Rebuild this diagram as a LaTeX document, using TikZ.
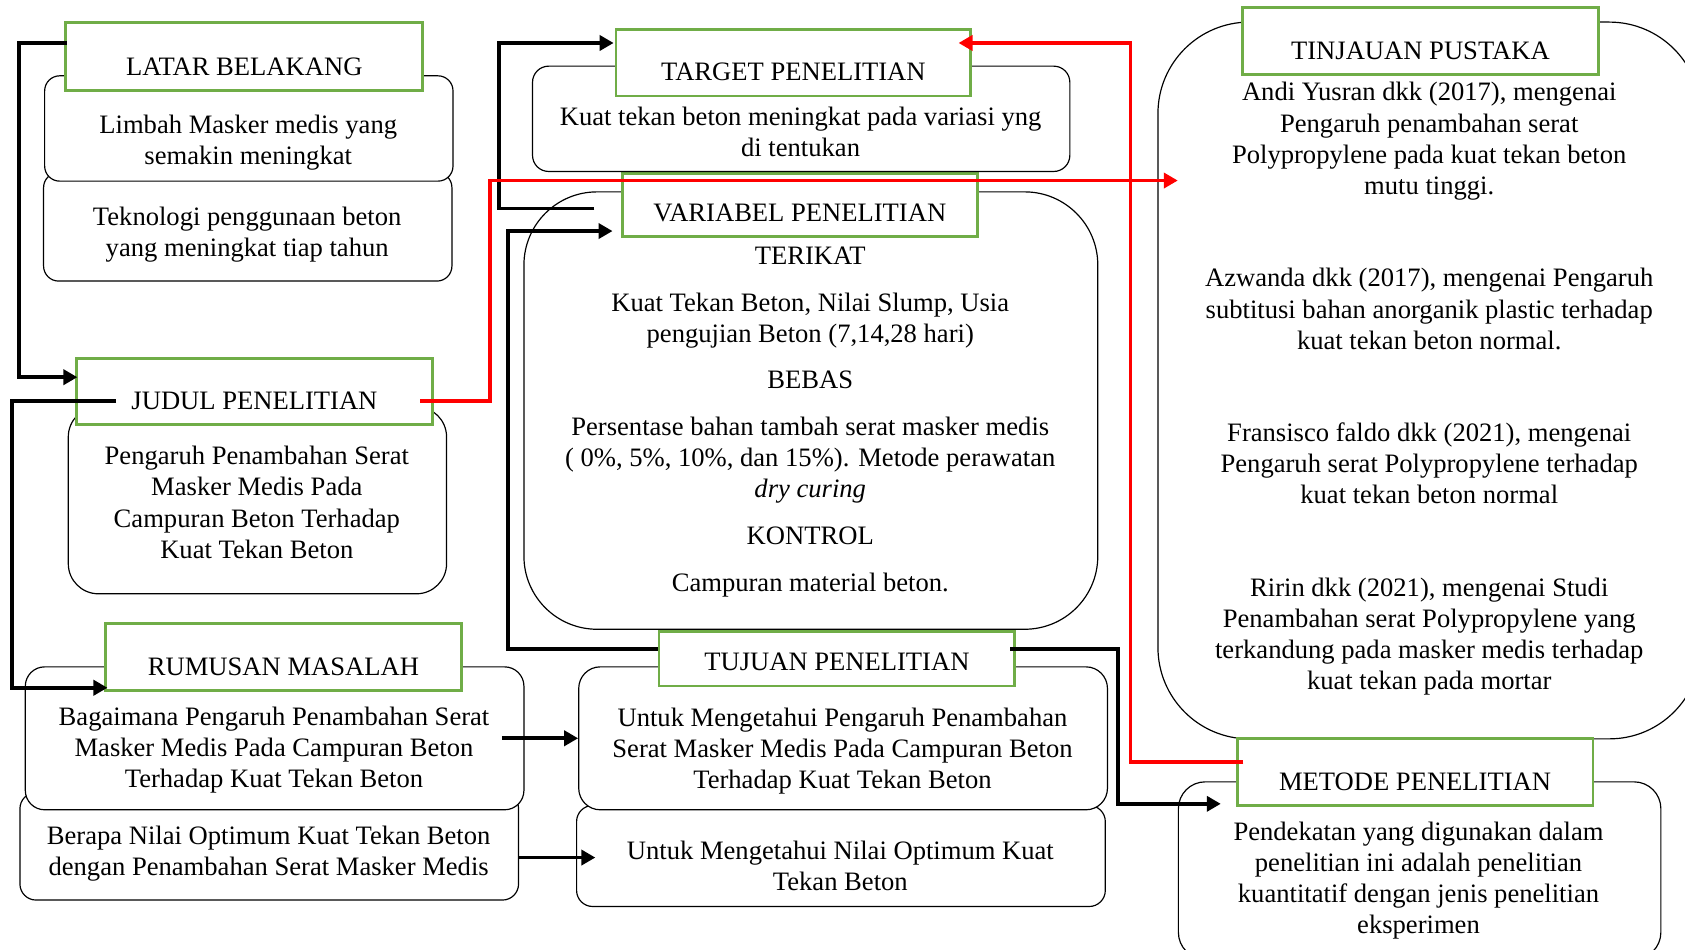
\documentclass[tikz,border=0pt]{standalone}
\usepackage{fontspec}
\setmainfont{Liberation Serif}
\usetikzlibrary{arrows.meta}
\definecolor{hgreen}{HTML}{70AD47}
\begin{document}
\begin{tikzpicture}[x=1pt,y=-1pt,font=\fontsize{24.75}{29}\selectfont,
 hdr/.style={draw=hgreen,line width=2.6pt,fill=white,inner sep=0pt,text depth=14pt,anchor=north west},
 rbox/.style={draw=black,line width=1.1pt,fill=white,rounded corners=#1,inner sep=0pt,anchor=north west},
 rbox/.default=15pt,
 txt/.style={align=center,inner sep=0pt},
 conn/.style={line width=3.6pt,black,-{Triangle[length=13pt,width=14pt]}},
 rconn/.style={line width=3.4pt,red,-{Triangle[length=13pt,width=14pt]}}]
\useasboundingbox (0,0) rectangle (1568,884);
\clip (0,0) rectangle (1568,884);
\fill[white] (0,0) rectangle (1568,884);

% LATAR BELAKANG
\node[rbox=14pt,minimum width=380pt,minimum height=101pt] (tekno) at (40,160) {};
\node[rbox=14pt,minimum width=380pt,minimum height=98pt] (limbah) at (41,70) {};
\node[hdr,minimum width=332pt,text height=49pt] (latar) at (60,20) {LATAR BELAKANG};
\node[txt] (limbahT) at (231,132.5) {Limbah Masker medis yang\\semakin meningkat};
\node[txt] (teknoT) at (230,218) {Teknologi penggunaan beton\\yang meningkat tiap tahun};

% JUDUL PENELITIAN
\node[rbox=28pt,minimum width=352pt,minimum height=174pt] (judulB) at (63,378) {};
\node[hdr,minimum width=331pt,text height=48pt] (judul) at (70,332) {JUDUL PENELITIAN};
\node[txt] (judulT) at (239,467.5) {Pengaruh Penambahan Serat\\Masker Medis Pada\\Campuran Beton Terhadap\\Kuat Tekan Beton};

% RUMUSAN MASALAH
\node[rbox=15pt,minimum width=464pt,minimum height=100pt] (rum2) at (18,737) {};
\node[rbox=18pt,minimum width=464pt,minimum height=133pt] (rum1) at (23,620) {};
\node[hdr,minimum width=331pt,text height=48pt] (rumusan) at (97,579) {RUMUSAN MASALAH};
\node[txt] (rum1T) at (255,698) {Bagaimana Pengaruh Penambahan Serat\\Masker Medis Pada Campuran Beton\\Terhadap Kuat Tekan Beton};
\node[txt] (rum2T) at (250,794) {Berapa Nilai Optimum Kuat Tekan Beton\\dengan Penambahan Serat Masker Medis};

% TUJUAN PENELITIAN
\node[rbox=15pt,minimum width=492pt,minimum height=94pt] (tuj2) at (536,749) {};
\node[rbox=20pt,minimum width=492pt,minimum height=133pt] (tuj1) at (538,620) {};
\node[hdr,minimum width=331pt,text height=37pt] (tujuan) at (612,586) {TUJUAN PENELITIAN};
\node[txt] (tuj1T) at (784,699) {Untuk Mengetahui Pengaruh Penambahan\\Serat Masker Medis Pada Campuran Beton\\Terhadap Kuat Tekan Beton};
\node[txt] (tuj2T) at (782,806) {Untuk Mengetahui Nilai Optimum Kuat\\Tekan Beton};

% VARIABEL PENELITIAN
\node[rbox=68pt,minimum width=534pt,minimum height=407pt] (varB) at (487,178) {};
\node[hdr,minimum width=330pt,text height=45pt] (variabel) at (578,160) {VARIABEL PENELITIAN};
\node[txt] (varT) at (754,392.5) {TERIKAT\\[14.4pt]Kuat Tekan Beton, Nilai Slump, Usia\\pengujian Beton (7,14,28 hari)\\[14.4pt]BEBAS\\[14.4pt]Persentase bahan tambah serat masker medis\\( 0\%, 5\%, 10\%, dan 15\%). Metode perawatan\\\textit{dry curing}\\[14.4pt]KONTROL\\[14.4pt]Campuran material beton.};

% TARGET PENELITIAN
\node[rbox=15pt,minimum width=500pt,minimum height=98pt] (targetB) at (495,61) {};
\node[hdr,minimum width=330pt,text height=48pt] (target) at (572,26) {TARGET PENELITIAN};
\node[txt] (targetT) at (745,122.5) {Kuat tekan beton meningkat pada variasi yng\\di tentukan};

% TINJAUAN PUSTAKA
\node[rbox=85pt,minimum width=505pt,minimum height=667pt] (tinjB) at (1077,20) {};
\node[hdr,minimum width=331pt,text height=48pt] (tinjauan) at (1155,6) {TINJAUAN PUSTAKA};
\node[txt] (tinjT) at (1330,362) {Andi Yusran dkk (2017), mengenai\\Pengaruh penambahan serat\\Polypropylene pada kuat tekan beton\\mutu tinggi.\\[57pt]Azwanda dkk (2017), mengenai Pengaruh\\subtitusi bahan anorganik plastic terhadap\\kuat tekan beton normal.\\[57pt]Fransisco faldo dkk (2021), mengenai\\Pengaruh serat Polypropylene terhadap\\kuat tekan beton normal\\[57pt]Ririn dkk (2021), mengenai Studi\\Penambahan serat Polypropylene yang\\terkandung pada masker medis terhadap\\kuat tekan pada mortar};

% METODE PENELITIAN
\node[rbox=25pt,minimum width=449pt,minimum height=165pt] (metB) at (1096,727) {};
\node[hdr,minimum width=331pt,text height=48pt] (metode) at (1150,686) {METODE PENELITIAN};
\node[txt] (metT) at (1320,819.5) {Pendekatan yang digunakan dalam\\penelitian ini adalah penelitian\\kuantitatif dengan jenis penelitian\\eksperimen};

% connector ends
\coordinate (latarOut) at (62,40);
\coordinate (judulIn) at (72,351);
\coordinate (judulOut) at (108,373);
\coordinate (rumIn) at (100,640);
\coordinate (judulROut) at (391,373);
\coordinate (tinjIn) at (1096,168);
\coordinate (rum1Out) at (467,687);
\coordinate (tuj1In) at (538,687);
\coordinate (rum2Out) at (483,798);
\coordinate (tuj2In) at (554,798);
\coordinate (varOut) at (553,194);
\coordinate (targetIn) at (571,40);
\coordinate (tujOut) at (612,604);
\coordinate (varIn) at (570,215);
\coordinate (tujROut) at (940,604);
\coordinate (metIn) at (1136,748);
\coordinate (metOut) at (1157,709);
\coordinate (targetRIn) at (892,40);

% black connectors
\draw[conn] (latarOut) -- (18,40) |- (judulIn);
\draw[conn] (judulOut) -- (11,373) |- (rumIn);
\draw[conn] (rum1Out) -- (tuj1In);
\draw[conn] (rum2Out) -- (tuj2In);
\draw[conn] (varOut) -- (464,194) |- (targetIn);
\draw[conn] (tujOut) -- (473,604) |- (varIn);
\draw[conn] (tujROut) -- (1040,604) |- (metIn);
% red connectors
\draw[rconn] (judulROut) -- (456,373) |- (tinjIn);
\draw[rconn] (metOut) -- (1052,709) |- (targetRIn);
\end{tikzpicture}
\end{document}
